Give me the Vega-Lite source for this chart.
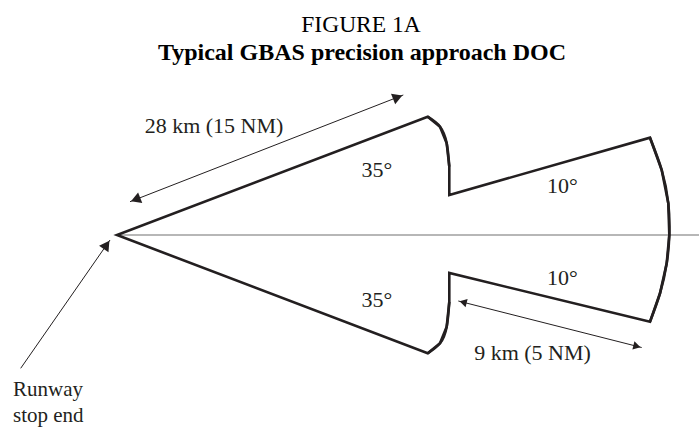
{
  "$schema": "https://vega.github.io/schema/vega-lite/v6.json",
  "width": 699,
  "height": 428,
  "padding": 0,
  "autosize": {"type": "none"},
  "background": "white",
  "config": {"view": {"stroke": null}},
  "datasets": {
    "outline": [
      {"i": 0, "x": 669.3, "y": 235},
      {"i": 1, "x": 666.7, "y": 263.3},
      {"i": 2, "x": 660, "y": 293.3},
      {"i": 3, "x": 650, "y": 321.7},
      {"i": 4, "x": 449.3, "y": 273},
      {"i": 5, "x": 449.3, "y": 302},
      {"i": 6, "x": 446.7, "y": 326.7},
      {"i": 7, "x": 440, "y": 343.3},
      {"i": 8, "x": 427.7, "y": 353.3},
      {"i": 9, "x": 117, "y": 235},
      {"i": 10, "x": 427.7, "y": 116.7},
      {"i": 11, "x": 440, "y": 126.7},
      {"i": 12, "x": 446.7, "y": 143.3},
      {"i": 13, "x": 449.3, "y": 166.7},
      {"i": 14, "x": 449.3, "y": 195},
      {"i": 15, "x": 650, "y": 137.7},
      {"i": 16, "x": 661.7, "y": 170},
      {"i": 17, "x": 668.3, "y": 203.3},
      {"i": 18, "x": 669.3, "y": 235}
    ],
    "curves": [
      {"seg": "arc", "i": 0, "x": 650, "y": 137.7},
      {"seg": "arc", "i": 1, "x": 661.7, "y": 170},
      {"seg": "arc", "i": 2, "x": 668.3, "y": 203.3},
      {"seg": "arc", "i": 3, "x": 669.3, "y": 235},
      {"seg": "arc", "i": 4, "x": 666.7, "y": 263.3},
      {"seg": "arc", "i": 5, "x": 660, "y": 293.3},
      {"seg": "arc", "i": 6, "x": 650, "y": 321.7},
      {"seg": "up", "i": 0, "x": 427.7, "y": 116.7},
      {"seg": "up", "i": 1, "x": 440, "y": 126.7},
      {"seg": "up", "i": 2, "x": 446.7, "y": 143.3},
      {"seg": "up", "i": 3, "x": 449.3, "y": 166.7},
      {"seg": "lo", "i": 0, "x": 449.3, "y": 302},
      {"seg": "lo", "i": 1, "x": 446.7, "y": 326.7},
      {"seg": "lo", "i": 2, "x": 440, "y": 343.3},
      {"seg": "lo", "i": 3, "x": 427.7, "y": 353.3}
    ],
    "axisline": [
      {"i": 0, "x": 117, "y": 235},
      {"i": 1, "x": 699, "y": 235}
    ],
    "arrows": [
      {"a": "dist28", "i": 0, "x": 130, "y": 201.7},
      {"a": "dist28", "i": 1, "x": 403.3, "y": 95},
      {"a": "runway", "i": 0, "x": 20.7, "y": 368.3},
      {"a": "runway", "i": 1, "x": 110, "y": 240},
      {"a": "dist9", "i": 0, "x": 458.3, "y": 301},
      {"a": "dist9", "i": 1, "x": 641.7, "y": 347.5}
    ],
    "headsBig": [
      {"x": 397.7, "y": 97.2, "ang": 68.7},
      {"x": 135.6, "y": 199.5, "ang": 248.7},
      {"x": 106.6, "y": 244.9, "ang": 34.8}
    ],
    "headsSmall": [
      {"x": 636.9, "y": 346.3, "ang": 104.2},
      {"x": 463.1, "y": 302.2, "ang": 284.2}
    ],
    "labels": [
      {"x": 214, "y": 132.5, "t": "28 km (15 NM)"},
      {"x": 377, "y": 177, "t": "35°"},
      {"x": 377, "y": 306.5, "t": "35°"},
      {"x": 562.5, "y": 193, "t": "10°"},
      {"x": 562.5, "y": 285, "t": "10°"},
      {"x": 532.5, "y": 360, "t": "9 km (5 NM)"}
    ],
    "leftlabels": [
      {"x": 13, "y": 396, "t": "Runway"},
      {"x": 13, "y": 422, "t": "stop end"}
    ],
    "fig": [{"x": 361, "y": 31.5, "t": "FIGURE 1A"}],
    "sub": [{"x": 362, "y": 60, "t": "Typical GBAS precision approach DOC"}]
  },
  "encoding": {
    "x": {"field": "x", "type": "quantitative", "scale": {"domain": [0, 699], "nice": false, "zero": false}, "axis": null},
    "y": {"field": "y", "type": "quantitative", "scale": {"domain": [0, 428], "nice": false, "zero": false, "reverse": true}, "axis": null}
  },
  "layer": [
    {
      "data": {"name": "axisline"},
      "mark": {"type": "line", "color": "#707070", "strokeWidth": 1.2},
      "encoding": {"order": {"field": "i"}}
    },
    {
      "data": {"name": "outline"},
      "mark": {"type": "line", "color": "#231f20", "strokeWidth": 2.6, "strokeJoin": "miter", "strokeMiterLimit": 20},
      "encoding": {"order": {"field": "i"}}
    },
    {
      "data": {"name": "curves"},
      "mark": {"type": "line", "color": "#231f20", "strokeWidth": 2.6, "interpolate": "natural"},
      "encoding": {"order": {"field": "i"}, "detail": {"field": "seg"}}
    },
    {
      "data": {"name": "arrows"},
      "mark": {"type": "line", "color": "#231f20", "strokeWidth": 1},
      "encoding": {"order": {"field": "i"}, "detail": {"field": "a"}}
    },
    {
      "data": {"name": "headsBig"},
      "mark": {"type": "point", "shape": "triangle-up", "filled": true, "color": "#231f20", "size": 130, "opacity": 1},
      "encoding": {"angle": {"field": "ang", "type": "quantitative", "scale": null}}
    },
    {
      "data": {"name": "headsSmall"},
      "mark": {"type": "point", "shape": "triangle-up", "filled": true, "color": "#231f20", "size": 70, "opacity": 1},
      "encoding": {"angle": {"field": "ang", "type": "quantitative", "scale": null}}
    },
    {
      "data": {"name": "labels"},
      "mark": {"type": "text", "font": "Liberation Serif", "fontSize": 22, "color": "#231f20", "baseline": "alphabetic", "align": "center"},
      "encoding": {"text": {"field": "t"}}
    },
    {
      "data": {"name": "leftlabels"},
      "mark": {"type": "text", "font": "Liberation Serif", "fontSize": 21, "color": "#231f20", "baseline": "alphabetic", "align": "left"},
      "encoding": {"text": {"field": "t"}}
    },
    {
      "data": {"name": "fig"},
      "mark": {"type": "text", "font": "Liberation Serif", "fontSize": 23.5, "color": "#000000", "baseline": "alphabetic", "align": "center"},
      "encoding": {"text": {"field": "t"}}
    },
    {
      "data": {"name": "sub"},
      "mark": {"type": "text", "font": "Liberation Serif", "fontSize": 24, "fontWeight": "bold", "color": "#000000", "baseline": "alphabetic", "align": "center"},
      "encoding": {"text": {"field": "t"}}
    }
  ]
}
